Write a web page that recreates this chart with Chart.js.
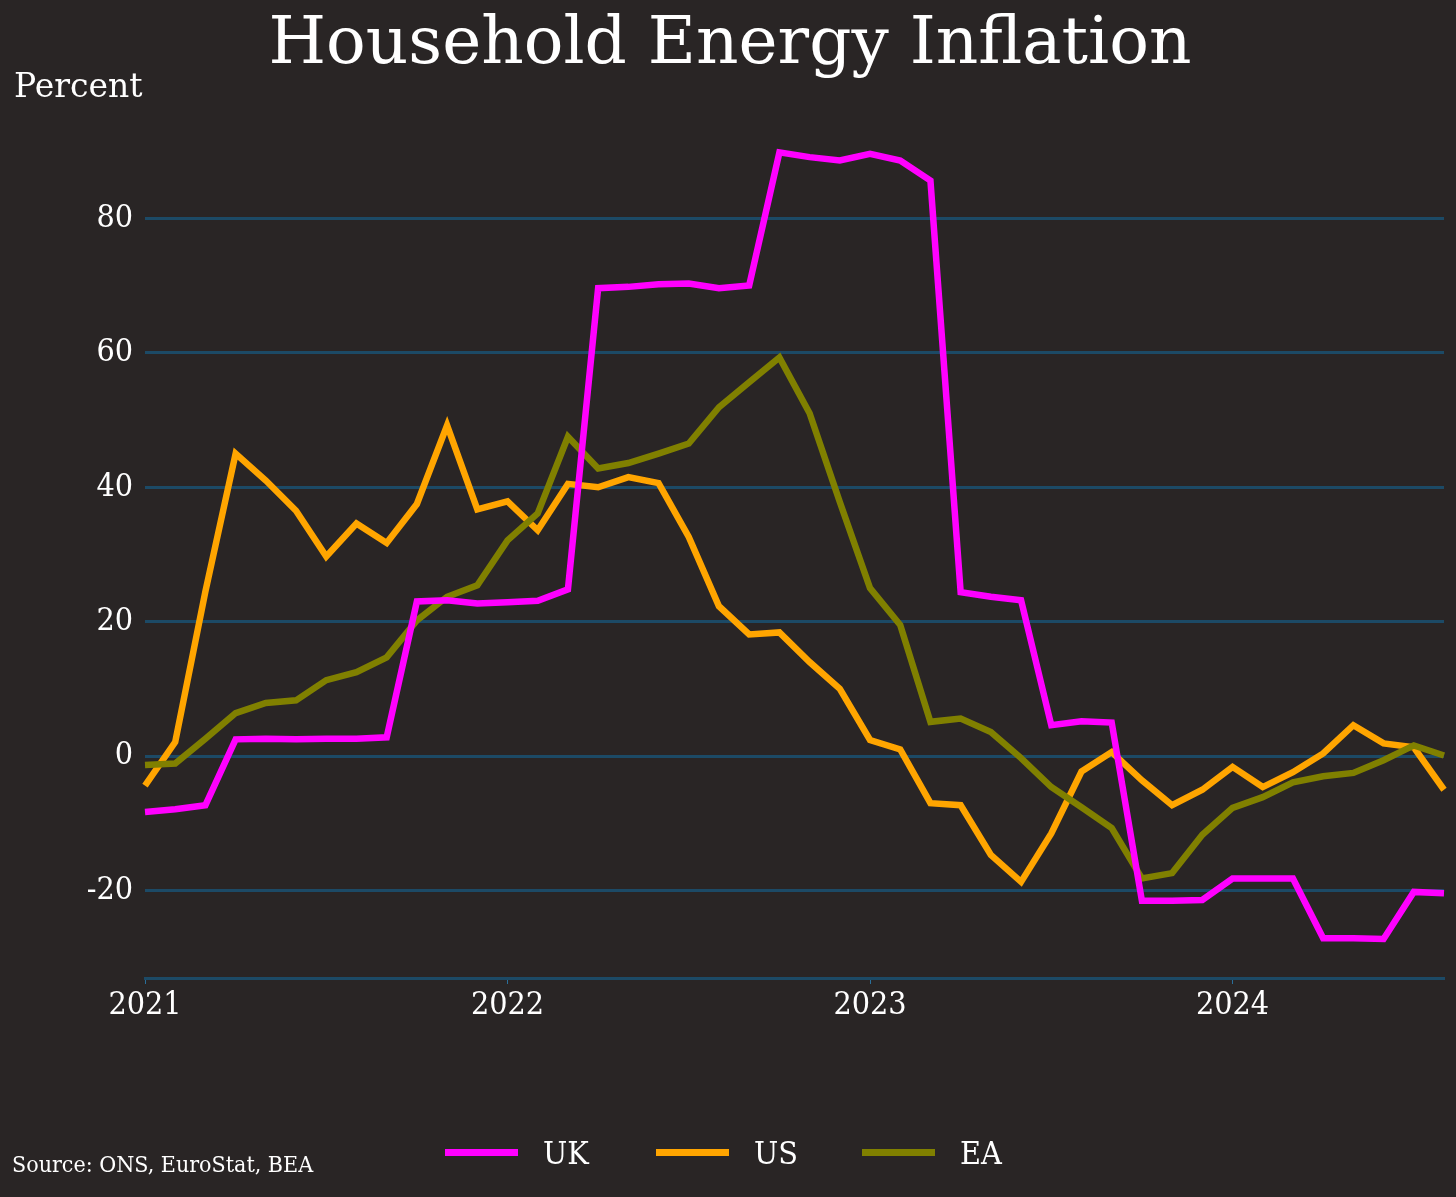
<!DOCTYPE html>
<html>
<head>
<meta charset="utf-8">
<title>Household Energy Inflation</title>
<script src="https://cdn.jsdelivr.net/npm/chart.js@4.4.1/dist/chart.umd.min.js"></script>
<style>
    html, body { margin: 0; padding: 0; background: #292525; }
    #wrap { width: 1456px; height: 1197px; }
</style>
</head>
<body>
<div id="wrap"><canvas id="energyChart" width="1456" height="1197"></canvas></div>
<script>
// Monthly data, Jan 2021 - Aug 2024 (year-on-year %)
const startYear = 2021;
const monthCount = 44;

const ukValues = [
    -8.3, -7.9, -7.3, 2.5, 2.6, 2.5, 2.6, 2.6, 2.8, 23.0, 23.2, 22.7,
    22.9, 23.1, 24.8, 69.6, 69.8, 70.2, 70.3, 69.6, 70.0, 89.8, 89.1, 88.6,
    89.6, 88.6, 85.6, 24.4, 23.7, 23.2, 4.6, 5.2, 5.0, -21.5, -21.5, -21.4,
    -18.2, -18.2, -18.2, -27.1, -27.1, -27.2, -20.2, -20.4
];
const usValues = [
    -4.4, 2.1, 24.5, 45.0, 41.0, 36.5, 29.7, 34.6, 31.7, 37.5, 49.2, 36.7,
    37.9, 33.6, 40.5, 40.0, 41.5, 40.6, 32.6, 22.3, 18.1, 18.4, 14.0, 10.0,
    2.4, 1.0, -7.0, -7.3, -14.7, -18.7, -11.5, -2.3, 0.6, -3.6, -7.3, -5.0,
    -1.6, -4.6, -2.4, 0.4, 4.6, 1.9, 1.3, -5.0
];
const eaValues = [
    -1.3, -1.1, 2.6, 6.4, 7.9, 8.3, 11.3, 12.5, 14.7, 20.2, 23.7, 25.4,
    32.1, 36.1, 47.5, 42.8, 43.6, 45.0, 46.5, 51.9, 55.6, 59.3, 51.0, 37.8,
    25.0, 19.5, 5.1, 5.6, 3.6, -0.3, -4.6, -7.6, -10.7, -18.2, -17.4, -11.7,
    -7.7, -6.1, -3.9, -3.0, -2.5, -0.6, 1.6, 0.1
];
const yTicks = [-20, 0, 20, 40, 60, 80];
const seriesNames = ['UK', 'US', 'EA'];
const seriesColors = ['#ff00ff', '#ffa500', '#808000'];

// month labels like 2021-01
const months = [];
for (let i = 0; i < monthCount; i++) {
    const y = startYear + Math.floor(i / 12);
    const m = (i % 12) + 1;
    months.push(y + '-' + (m < 10 ? '0' + m : m));
}

const bg = '#292525';
const gridBlue = '#1c4a66';
const slab = "'DejaVu Serif', 'Liberation Serif', serif";
const slabNarrow = "'DejaVu Serif Condensed', 'DejaVu Serif', serif";

// title, axis caption, source and legend drawn by hand
const decorations = {
    id: 'decorations',
    beforeDraw(chart) {
        const c = chart.ctx;
        c.save();
        c.fillStyle = bg;
        c.fillRect(0, 0, chart.width, chart.height);
        c.restore();
    },
    afterDraw(chart) {
        const c = chart.ctx;
        c.save();
        c.fillStyle = '#ffffff';
        c.textBaseline = 'alphabetic';

        c.font = '66px ' + slab;
        c.textAlign = 'center';
        c.fillText('Household Energy Inflation', 730, 63);

        c.font = '33px ' + slab;
        c.textAlign = 'left';
        c.fillText('Percent', 14, 97);

        c.font = '23px ' + slabNarrow;
        c.fillText('Source: ONS, EuroStat, BEA', 12, 1172);

        // legend
        const legendX = [445, 656, 862];
        c.font = '32px ' + slabNarrow;
        seriesNames.forEach((name, i) => {
            c.fillStyle = seriesColors[i];
            c.fillRect(legendX[i], 1149, 73, 7);
            c.fillStyle = '#ffffff';
            c.fillText(name, legendX[i] + 98, 1164);
        });
        c.restore();
    }
};

const datasets = [
    { label: 'UK', data: ukValues, borderColor: seriesColors[0], order: 0 },
    { label: 'US', data: usValues, borderColor: seriesColors[1], order: 2 },
    { label: 'EA', data: eaValues, borderColor: seriesColors[2], order: 1 }
].map(d => Object.assign(d, {
    backgroundColor: d.borderColor,
    borderWidth: 6.5,
    pointRadius: 0,
    tension: 0,
    fill: false
}));

const ctx = document.getElementById('energyChart').getContext('2d');
new Chart(ctx, {
    type: 'line',
    data: { labels: months, datasets: datasets },
    plugins: [decorations],
    options: {
        responsive: false,
        animation: false,
        layout: { padding: { top: 104, right: 12, bottom: 159, left: 0 } },
        plugins: {
            legend: { display: false },
            title: { display: false },
            tooltip: { enabled: false }
        },
        scales: {
            x: {
                type: 'category',
                offset: false,
                afterFit(scale) { scale.height = 60; },
                grid: {
                    display: true,
                    drawOnChartArea: false,
                    drawTicks: true,
                    tickLength: 6,
                    color: '#2a6f9a',
                    lineWidth: 1
                },
                border: { display: true, color: gridBlue, width: 3 },
                ticks: {
                    autoSkip: false,
                    maxRotation: 0,
                    padding: 2,
                    color: '#ffffff',
                    font: { family: slabNarrow, size: 32 },
                    callback(value, index) {
                        return index % 12 === 0 ? String(startYear + index / 12) : null;
                    }
                }
            },
            y: {
                min: -33,
                max: 97,
                afterFit(scale) { scale.width = 145; },
                afterBuildTicks(scale) {
                    scale.ticks = yTicks.map(v => ({ value: v }));
                },
                grid: {
                    color: gridBlue,
                    lineWidth: 3,
                    drawTicks: false
                },
                border: { display: false },
                ticks: {
                    padding: 12,
                    color: '#ffffff',
                    font: { family: slabNarrow, size: 32 }
                }
            }
        }
    }
});
</script>
</body>
</html>
